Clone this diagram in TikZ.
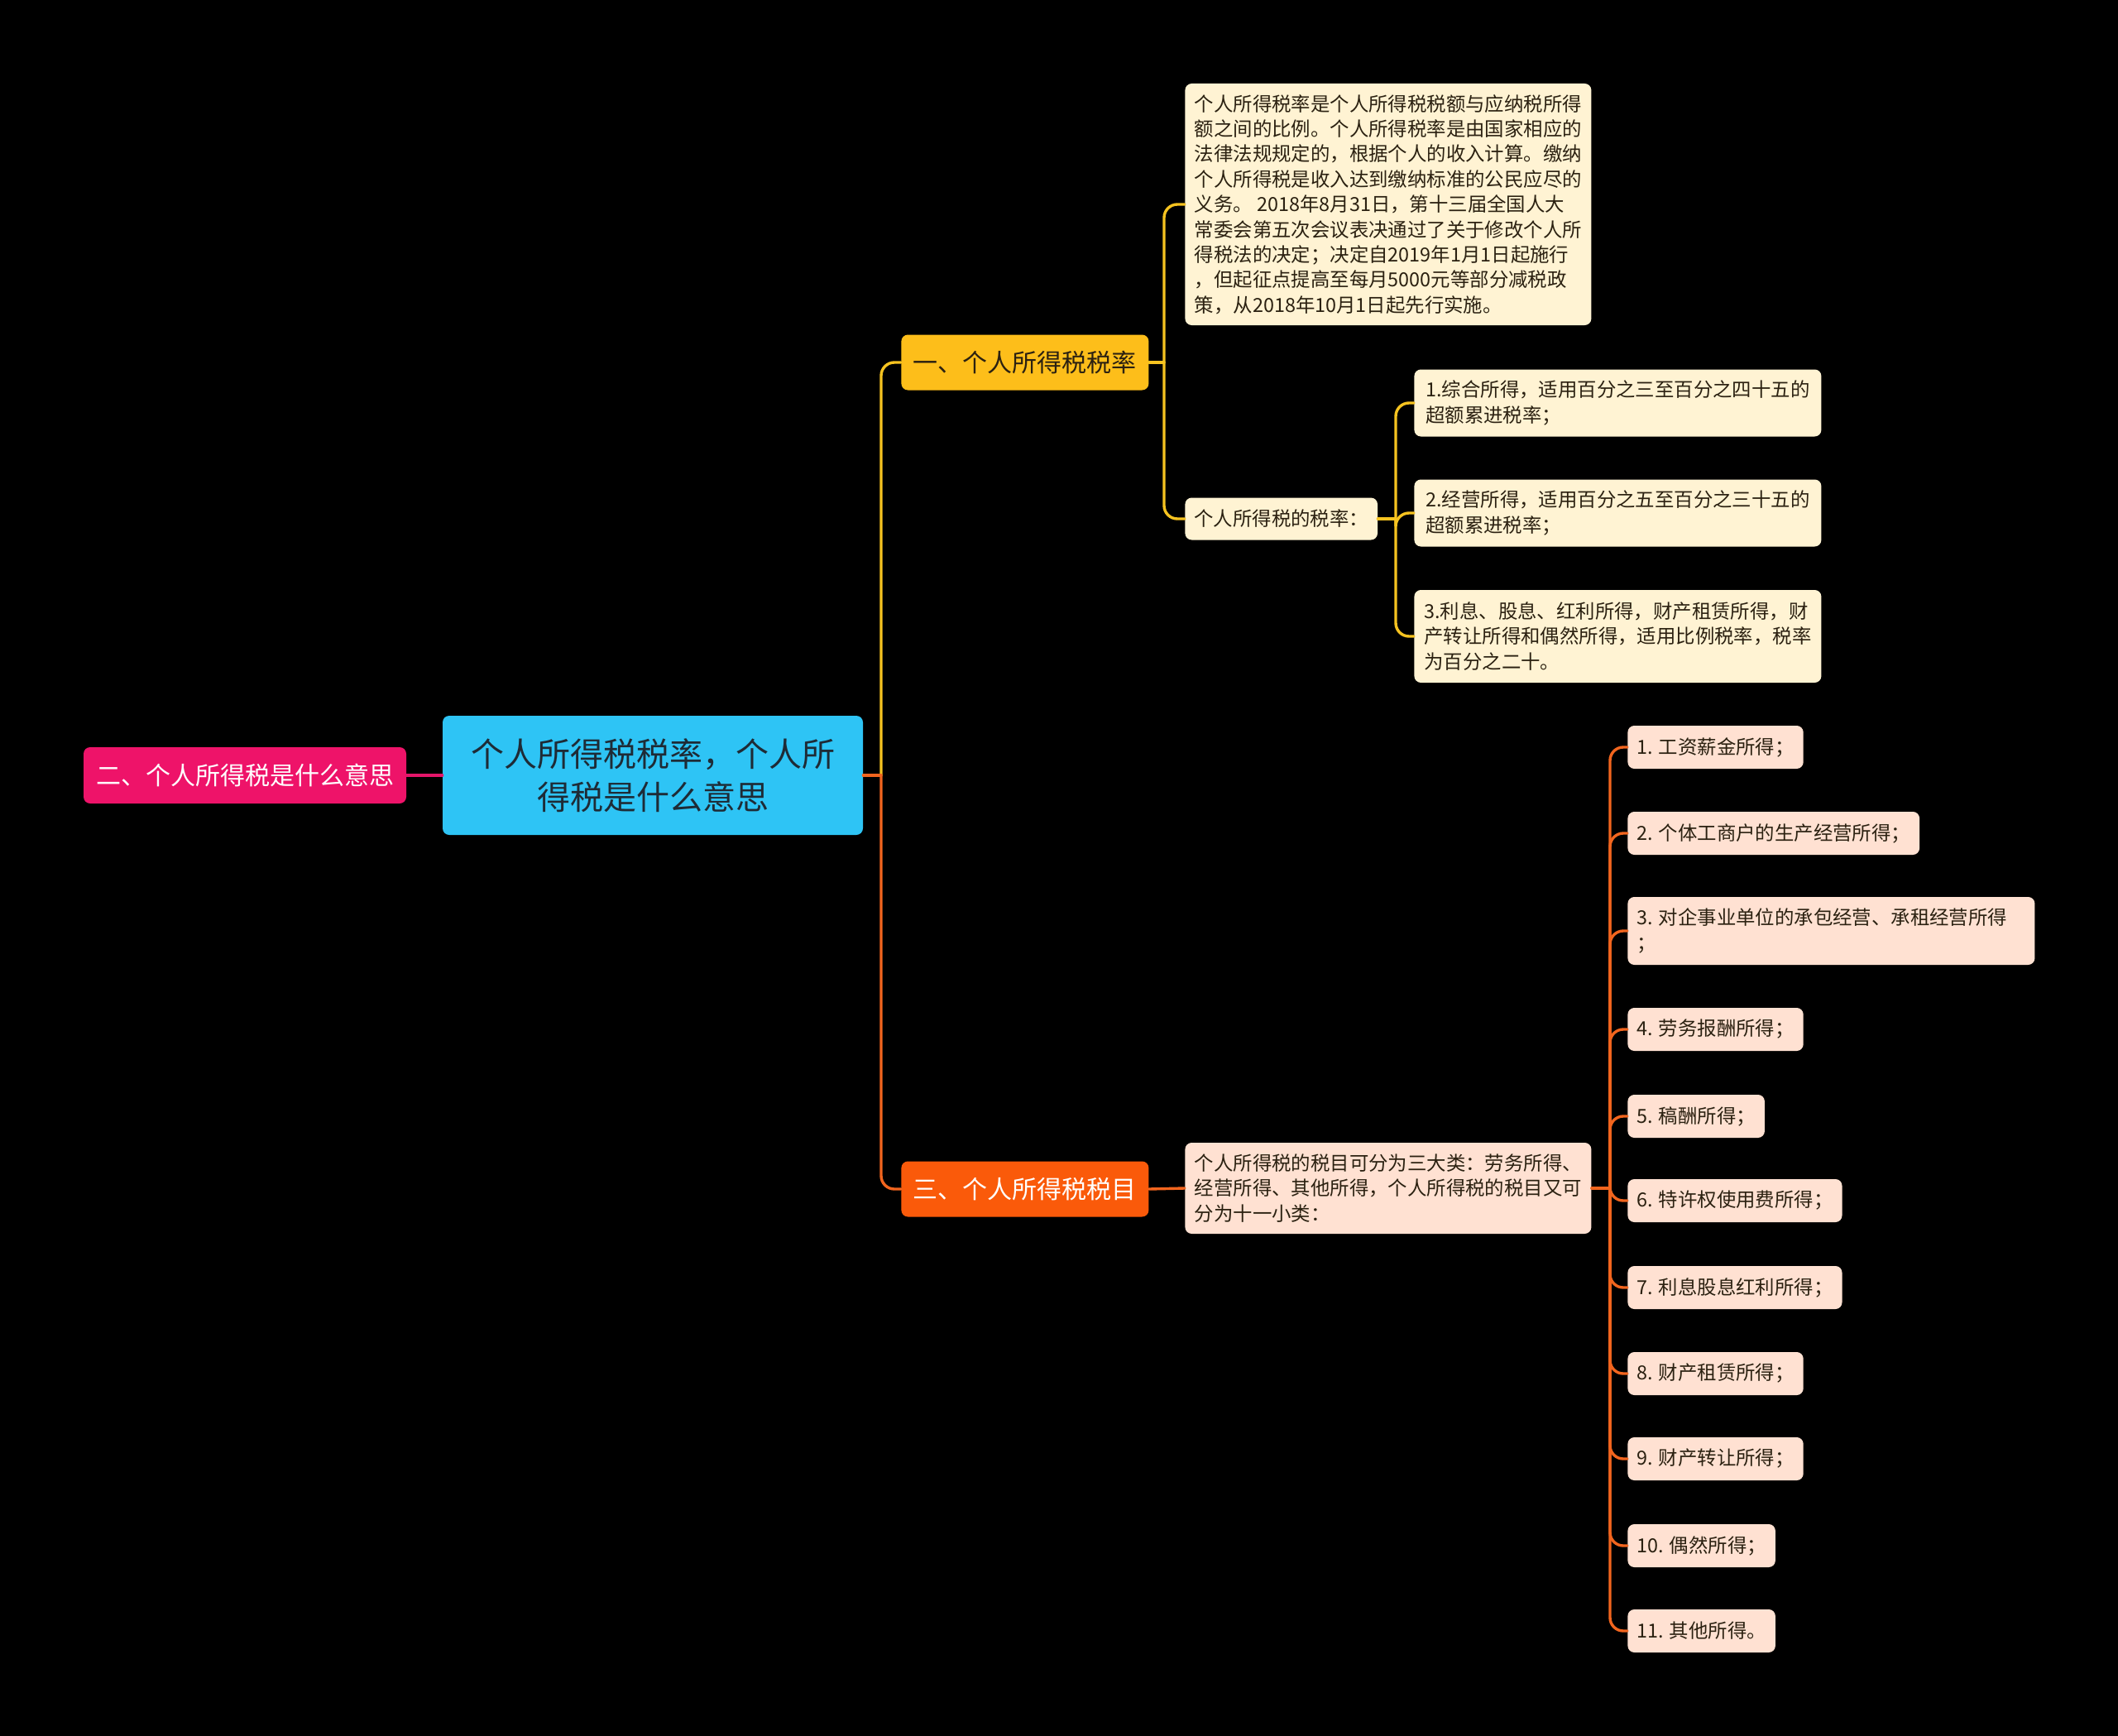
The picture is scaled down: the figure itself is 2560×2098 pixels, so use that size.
\documentclass[tikz,border=0pt]{standalone}
\usepackage{fontspec}
\setmainfont{Noto Sans CJK SC}
\usetikzlibrary{arrows,shapes}
\definecolor{bgblack}{HTML}{000000}
\definecolor{rootfill}{HTML}{2EC4F5}
\definecolor{roottext}{HTML}{1E2B36}
\definecolor{pinkfill}{HTML}{EE1369}
\definecolor{pinkline}{HTML}{E5166A}
\definecolor{yfill}{HTML}{FDBE1A}
\definecolor{yline}{HTML}{F6C320}
\definecolor{yleaffill}{HTML}{FFF3D3}
\definecolor{ofill}{HTML}{FA5A0A}
\definecolor{oline}{HTML}{F2651E}
\definecolor{oleaffill}{HTML}{FFE1D2}
\definecolor{leaftext}{HTML}{2B2111}
\tikzstyle{mmap}=[x=0.5pt, y=-0.5pt]
\tikzstyle{rootbox}=[fill=rootfill, text=roottext, rounded corners=4pt, minimum width=254pt, minimum height=72pt, align=center, font=\fontsize{20pt}{26pt}\selectfont]
\tikzstyle{pinkbox}=[fill=pinkfill, text=white, rounded corners=4pt, minimum width=195pt, minimum height=34pt, font=\fontsize{15pt}{18pt}\selectfont]
\tikzstyle{ybox}=[fill=yfill, text=leaftext, rounded corners=4pt, minimum width=149.5pt, minimum height=33.5pt, font=\fontsize{15pt}{18pt}\selectfont]
\tikzstyle{obox}=[fill=ofill, text=white, rounded corners=4pt, minimum width=149.5pt, minimum height=33.5pt, font=\fontsize{15pt}{18pt}\selectfont]
\tikzstyle{yleaf}=[fill=yleaffill, text=leaftext, rounded corners=4pt, inner xsep=5.5pt, inner ysep=3pt, align=left, anchor=west, minimum height=25.5pt, font=\fontsize{11.7pt}{15.2pt}\selectfont]
\tikzstyle{oleaf}=[yleaf, fill=oleaffill, minimum height=26pt]
\tikzstyle{ylink}=[draw=yline, line width=1.7pt, line cap=round, rounded corners=8pt]
\tikzstyle{olink}=[ylink, draw=oline]
\tikzstyle{plink}=[ylink, draw=pinkline]

\begin{document}
\begin{tikzpicture}[mmap]
\fill[bgblack] (0,0) rectangle (2560,2098);
\useasboundingbox (0,0) rectangle (2560,2098);
\node[rootbox] (root) at (789,937) {个人所得税税率，个人所\\得税是什么意思};
\node[pinkbox] (what) at (296,937) {二、个人所得税是什么意思};
\node[ybox, anchor=west] (rate) at (1089,438) {一、个人所得税税率};
\node[obox, anchor=west] (item) at (1089,1437) {三、个人所得税税目};
% 税率 branch
\node[yleaf, minimum width=245.5pt, minimum height=146pt] (rdef) at (1432,247) {个人所得税率是个人所得税税额与应纳税所得\\额之间的比例。个人所得税率是由国家相应的\\法律法规规定的，根据个人的收入计算。缴纳\\个人所得税是收入达到缴纳标准的公民应尽的\\义务。 2018年8月31日，第十三届全国人大\\常委会第五次会议表决通过了关于修改个人所\\得税法的决定；决定自2019年1月1日起施行\\，但起征点提高至每月5000元等部分减税政\\策，从2018年10月1日起先行实施。};
\node[yleaf] (rlist) at (1432,627) {个人所得税的税率：};
\node[yleaf, minimum width=246pt, minimum height=40.5pt] (r1) at (1709,487) {1.综合所得，适用百分之三至百分之四十五的\\超额累进税率；};
\node[yleaf, minimum width=246pt, minimum height=40.5pt] (r2) at (1709,620) {2.经营所得，适用百分之五至百分之三十五的\\超额累进税率；};
\node[yleaf, minimum width=246pt, minimum height=56pt] (r3) at (1709,769) {3.利息、股息、红利所得，财产租赁所得，财\\产转让所得和偶然所得，适用比例税率，税率\\为百分之二十。};
% 税目 branch
\node[oleaf, minimum width=245.5pt, minimum height=55pt] (idef) at (1432,1436) {个人所得税的税目可分为三大类：劳务所得、\\经营所得、其他所得，个人所得税的税目又可\\分为十一小类：};
\node[oleaf] (i1) at (1967,903) {1. 工资薪金所得；};
\node[oleaf] (i2) at (1967,1007) {2. 个体工商户的生产经营所得；};
\node[oleaf, align=flush left, text width=235pt, minimum height=41pt] (i3) at (1967,1125) {3. 对企事业单位的承包经营、承租经营所得\\；};
\node[oleaf] (i4) at (1967,1244) {4. 劳务报酬所得；};
\node[oleaf] (i5) at (1967,1349) {5. 稿酬所得；};
\node[oleaf] (i6) at (1967,1451) {6. 特许权使用费所得；};
\node[oleaf] (i7) at (1967,1556) {7. 利息股息红利所得；};
\node[oleaf] (i8) at (1967,1660) {8. 财产租赁所得；};
\node[oleaf] (i9) at (1967,1763) {9. 财产转让所得；};
\node[oleaf] (i10) at (1967,1868) {10. 偶然所得；};
\node[oleaf] (i11) at (1967,1971) {11. 其他所得。};
\coordinate (j0) at (1065,937);
\coordinate (j1) at (1407,438);
\coordinate (j2) at (1687,627);
\coordinate (j3) at (1946,1436);
\draw[plink](what)--(root);
\draw[ylink](j0)|-(rate.west);
\draw[olink](root.east)--(j0);\draw[olink](j0)|-(item.west);
\draw[ylink](rate.east)--(j1);\draw[ylink](j1)|-(rdef.west);\draw[ylink](j1)|-(rlist.west);
\draw[ylink](rlist.east)--(j2);\draw[ylink](j2)|-(r1.west);\draw[ylink](j2)|-(r2.west);\draw[ylink](j2)|-(r3.west);
\draw[olink](item.east)--(idef.west);
\draw[olink](idef.east)--(j3);
\draw[olink](j3)|-(i1.west);\draw[olink](j3)|-(i2.west);\draw[olink](j3)|-(i3.west);\draw[olink](j3)|-(i4.west);
\draw[olink](j3)|-(i5.west);\draw[olink](j3)|-(i6.west);\draw[olink](j3)|-(i7.west);\draw[olink](j3)|-(i8.west);
\draw[olink](j3)|-(i9.west);\draw[olink](j3)|-(i10.west);\draw[olink](j3)|-(i11.west);
\end{tikzpicture}
\end{document}
